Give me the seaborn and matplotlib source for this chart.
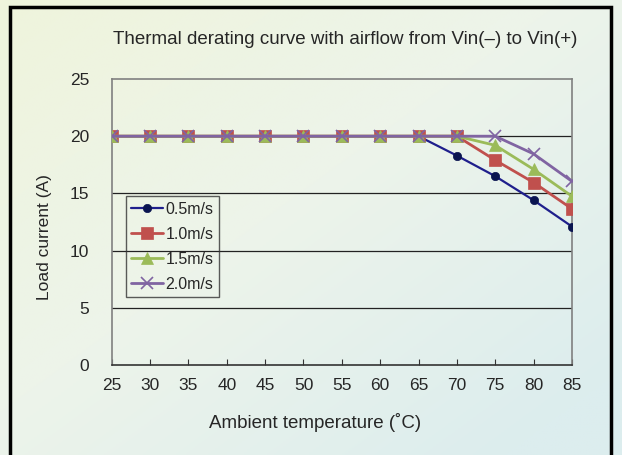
"""
Thermal derating curve (load current vs ambient temperature) for several airflows.
"""

import matplotlib.pyplot as plt
import numpy as np
import pandas as pd
import seaborn as sns
from matplotlib.colors import LinearSegmentedColormap
from matplotlib.patches import Rectangle

# Data
temperature = [25, 30, 35, 40, 45, 50, 55, 60, 65, 70, 75, 80, 85]
airflow_labels = ["0.5m/s", "1.0m/s", "1.5m/s", "2.0m/s"]
current_05 = [20, 20, 20, 20, 20, 20, 20, 20, 20, 18.3, 16.5, 14.4, 12.1]
current_10 = [20, 20, 20, 20, 20, 20, 20, 20, 20, 20, 17.9, 15.95, 13.65]
current_15 = [20, 20, 20, 20, 20, 20, 20, 20, 20, 20, 19.2, 17.1, 14.75]
current_20 = [20, 20, 20, 20, 20, 20, 20, 20, 20, 20, 20, 18.45, 16.05]
y_ticks = [0, 5, 10, 15, 20, 25]

line_colors = ["#1F1F8C", "#C0504D", "#9BBB59", "#8064A2"]
marker_colors = ["#0A1450", "#C0504D", "#9BBB59", "#8064A2"]
markers = ["o", "s", "^", "x"]
marker_sizes = [6, 8, 8, 8]

sns.set_theme(style="white")
plt.rcParams["font.family"] = ["Liberation Sans", "DejaVu Sans"]

df = pd.DataFrame({"temp": temperature})
for label, values in zip(airflow_labels, [current_05, current_10, current_15, current_20]):
    df[label] = values
long_df = df.melt(id_vars="temp", var_name="airflow", value_name="current")

fig = plt.figure(figsize=(6.22, 4.55), dpi=100)

# Background gradient behind everything
bg_ax = fig.add_axes([0, 0, 1, 1], zorder=-10)
gx, gy = np.meshgrid(np.linspace(0, 1, 200), np.linspace(0, 1, 200))
grad = np.clip(0.55 * gx + 0.55 * gy, 0, 1)
cmap = LinearSegmentedColormap.from_list("bg", ["#EFF4DC", "#EDF4EA", "#DCEDEE"])
bg_ax.imshow(grad, cmap=cmap, aspect="auto", extent=[0, 1, 0, 1], origin="upper")
bg_ax.set_axis_off()

# Black frame round the chart
fig.patches.append(Rectangle((10 / 622, -0.05), 601 / 622, 1.05 - 7 / 455,
                             transform=fig.transFigure, fill=False,
                             edgecolor="black", linewidth=2.5, zorder=5))

ax = fig.add_axes([0.1796, 0.1978, 0.7400, 0.6286])
ax.patch.set_alpha(0)

for i, label in enumerate(airflow_labels):
    sub = long_df[long_df["airflow"] == label]
    sns.lineplot(data=sub, x="temp", y="current", ax=ax, label=label,
                 color=line_colors[i], linewidth=2 if i else 1.6,
                 marker=markers[i], markersize=marker_sizes[i],
                 markerfacecolor=marker_colors[i], markeredgecolor=marker_colors[i],
                 markeredgewidth=1.2 if markers[i] == "x" else 0.5,
                 zorder=3 + i)

ax.set_xlim(25, 85)
ax.set_ylim(0, 25)
ax.set_xticks(temperature)
ax.set_yticks(y_ticks)
ax.tick_params(axis="x", direction="in", length=4, width=0.8, color="#333333",
               bottom=True, labelsize=12.5, pad=9)
ax.tick_params(axis="y", left=False, labelsize=12.5, pad=10)
for y in y_ticks[1:-1]:
    ax.axhline(y, color="#222222", linewidth=0.9, zorder=1)
for side in ["left", "right", "top", "bottom"]:
    ax.spines[side].set_color("#808080")
    ax.spines[side].set_linewidth(1.2)
ax.spines["bottom"].set_color("#333333")

ax.set_xlabel("")
ax.set_ylabel("")
fig.text(45 / 622, 1 - 237 / 455, "Load current (A)", rotation=90,
         ha="center", va="center", fontsize=12.5)
fig.text(315 / 622, 1 - 423 / 455, "Ambient temperature (\u02daC)",
         ha="center", va="center", fontsize=13.5)
fig.text(345 / 622, 1 - 40 / 455, "Thermal derating curve with airflow from Vin(\u2013) to Vin(+)",
         ha="center", va="center", fontsize=13.5)

leg = ax.legend(loc="upper left", bbox_to_anchor=(0.03, 0.59), fontsize=11.5,
                frameon=True, fancybox=False, handlelength=2.0, handletextpad=0.15,
                borderpad=0.35, labelspacing=0.62, borderaxespad=0)
leg.get_frame().set_edgecolor("#333333")
leg.get_frame().set_facecolor("none")
leg.get_frame().set_linewidth(1.0)

fig.savefig("out.png", dpi=100)
